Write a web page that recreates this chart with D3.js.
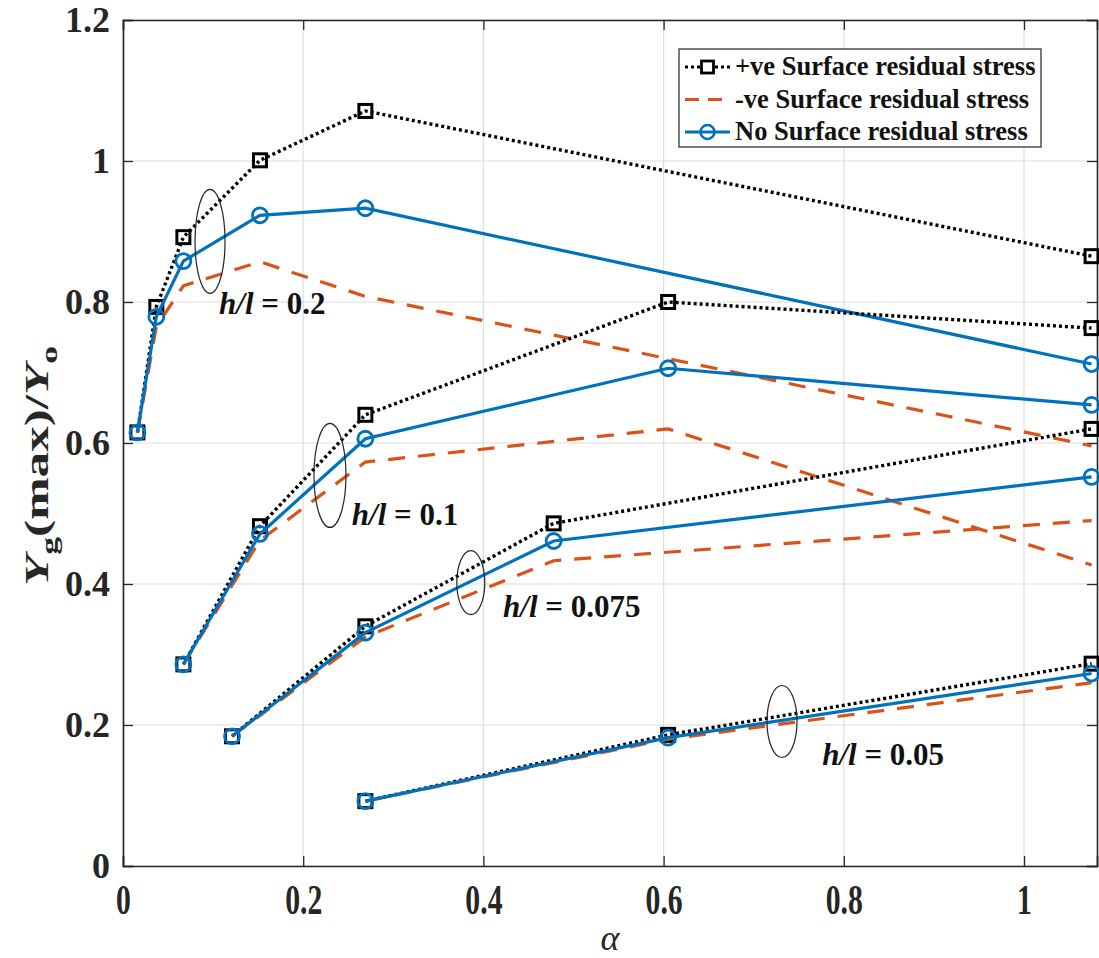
<!DOCTYPE html>
<html>
<head>
<meta charset="utf-8">
<script src="https://cdn.jsdelivr.net/npm/d3@7"></script>
<style>
    body { margin: 0; background: #fff; }
</style>
</head>
<body>
<div id="chart-area"></div>
<script>
// alpha values and Yg(max)/Yo for each h/l group
// h/l = 0.2
const alpha02 = [0.016, 0.037, 0.067, 0.152, 0.269, 1.075]
const pos02   = [0.615, 0.793, 0.892, 1.001, 1.071, 0.865]
const neg02   = [0.615, 0.765, 0.823, 0.857, 0.808, 0.596]
const none02  = [0.615, 0.779, 0.858, 0.923, 0.933, 0.712]
// h/l = 0.1
const alpha01 = [0.067, 0.152, 0.269, 0.605, 1.075]
const pos01   = [0.286, 0.482, 0.640, 0.800, 0.763]
const neg01   = [0.286, 0.462, 0.573, 0.620, 0.427]
const none01  = [0.286, 0.471, 0.606, 0.706, 0.654]
// h/l = 0.075
const alpha0075 = [0.121, 0.269, 0.478, 1.075]
const pos0075   = [0.184, 0.340, 0.486, 0.620]
const neg0075   = [0.184, 0.325, 0.433, 0.490]
const none0075  = [0.184, 0.331, 0.461, 0.552]
// h/l = 0.05
const alpha005 = [0.269, 0.605, 1.075]
const pos005   = [0.092, 0.186, 0.287]
const neg005   = [0.092, 0.180, 0.260]
const none005  = [0.092, 0.182, 0.273]

const xTicks = [0, 0.2, 0.4, 0.6, 0.8, 1]
const xTickLabels = ["0", "0.2", "0.4", "0.6", "0.8", "1"]
const yTicks = [0, 0.2, 0.4, 0.6, 0.8, 1, 1.2]
const yTickLabels = ["0", "0.2", "0.4", "0.6", "0.8", "1", "1.2"]
const legendLabels = ["+ve Surface residual stress", "-ve Surface residual stress", "No Surface residual stress"]
const groupLabels = ["0.2", "0.1", "0.075", "0.05"]

const FONT = "'Liberation Serif', 'Times New Roman', serif"

let MARGIN = {LEFT: 123, RIGHT: 2, TOP: 20, BOTTOM: 92}
let WIDTH = 1099 - MARGIN.LEFT - MARGIN.RIGHT
let HEIGHT = 958 - MARGIN.TOP - MARGIN.BOTTOM

let svg = d3.select("#chart-area").append("svg")
    .attr("width", 1099)
    .attr("height", 958)
    .style("font-family", FONT)

let g = svg.append("g")
    .attr("transform", `translate(${MARGIN.LEFT}, ${MARGIN.TOP})`)

let x = d3.scaleLinear().domain([0, 1.081]).range([0, WIDTH])
let y = d3.scaleLinear().domain([0, 1.2]).range([HEIGHT, 0])

// grid
g.append("g").selectAll("line").data(xTicks).enter().append("line")
    .attr("x1", d => x(d)).attr("x2", d => x(d))
    .attr("y1", 0).attr("y2", HEIGHT)
    .attr("stroke", "#dedede").attr("stroke-width", 1.2)
g.append("g").selectAll("line").data(yTicks).enter().append("line")
    .attr("x1", 0).attr("x2", WIDTH)
    .attr("y1", d => y(d)).attr("y2", d => y(d))
    .attr("stroke", "#dedede").attr("stroke-width", 1.2)

// axes (inward ticks, full box)
let xAxisCall = d3.axisBottom(x).tickValues(xTicks).tickSize(-10)
    .tickFormat((d, i) => xTickLabels[i])
let xAxis = g.append("g")
    .attr("transform", `translate(0, ${HEIGHT})`)
    .call(xAxisCall)
// x labels in the figure are tall and narrow
xAxis.selectAll(".tick text")
    .attr("y", 0).attr("dy", 0)
    .attr("transform", "translate(0, 48) scale(0.9, 1.25)")
    .attr("font-size", "33px")
let yAxisCall = d3.axisLeft(y).tickValues(yTicks).tickSize(-10).tickPadding(13)
    .tickFormat((d, i) => yTickLabels[i])
let yAxis = g.append("g").call(yAxisCall)
yAxis.selectAll(".tick text").attr("font-size", "36px")
g.append("g").call(d3.axisTop(x).tickValues(xTicks).tickSize(-10).tickFormat(""))
g.append("g").attr("transform", `translate(${WIDTH}, 0)`)
    .call(d3.axisRight(y).tickValues(yTicks).tickSize(-10).tickFormat(""))
g.selectAll(".domain").attr("stroke", "#262626").attr("stroke-width", 1.6)
g.selectAll(".tick line").attr("stroke", "#262626").attr("stroke-width", 1.3)
g.selectAll(".tick text")
    .style("font-family", FONT)
    .attr("font-weight", "bold")
    .attr("fill", "#262626")

// series
const groups = [
    {alpha: alpha02, pos: pos02, neg: neg02, none: none02},
    {alpha: alpha01, pos: pos01, neg: neg01, none: none01},
    {alpha: alpha0075, pos: pos0075, neg: neg0075, none: none0075},
    {alpha: alpha005, pos: pos005, neg: neg005, none: none005}
]
const BLACK = "#000000", ORANGE = "#D95319", BLUE = "#0072BD"

let line = d3.line().x(d => x(d[0])).y(d => y(d[1]))
let plot = g.append("g")

groups.forEach(grp => {
    let p = grp.alpha.map((a, i) => [a, grp.pos[i]])
    let n = grp.alpha.map((a, i) => [a, grp.neg[i]])
    let b = grp.alpha.map((a, i) => [a, grp.none[i]])

    plot.append("path").datum(p).attr("d", line)
        .attr("fill", "none").attr("stroke", BLACK)
        .attr("stroke-width", 3.4).attr("stroke-dasharray", "3,3")
    plot.selectAll(null).data(p).enter().append("rect")
        .attr("x", d => x(d[0]) - 6.5).attr("y", d => y(d[1]) - 6.5)
        .attr("width", 13).attr("height", 13)
        .attr("fill", "none").attr("stroke", BLACK).attr("stroke-width", 3)

    plot.append("path").datum(n).attr("d", line)
        .attr("fill", "none").attr("stroke", ORANGE)
        .attr("stroke-width", 3.2).attr("stroke-dasharray", "17,13")

    plot.append("path").datum(b).attr("d", line)
        .attr("fill", "none").attr("stroke", BLUE).attr("stroke-width", 3.2)
    plot.selectAll(null).data(b).enter().append("circle")
        .attr("cx", d => x(d[0])).attr("cy", d => y(d[1])).attr("r", 7.5)
        .attr("fill", "none").attr("stroke", BLUE).attr("stroke-width", 2.8)
})

// h/l group annotations: ellipse centre, radii (px), label anchor
const notes = [
    {cx: 0.0966, cy: 0.886, rx: 15, ry: 52, lx: 0.1066, ly: 0.783},
    {cx: 0.2297, cy: 0.554, rx: 16, ry: 52, lx: 0.254, ly: 0.484},
    {cx: 0.386, cy: 0.402, rx: 14, ry: 32, lx: 0.4218, ly: 0.353},
    {cx: 0.7314, cy: 0.205, rx: 15, ry: 36, lx: 0.776, ly: 0.143}
]
notes.forEach((nt, i) => {
    g.append("ellipse")
        .attr("cx", x(nt.cx)).attr("cy", y(nt.cy))
        .attr("rx", nt.rx).attr("ry", nt.ry)
        .attr("fill", "none").attr("stroke", "#222").attr("stroke-width", 1.2)
    let t = g.append("text")
        .attr("x", x(nt.lx)).attr("y", y(nt.ly))
        .style("font-family", FONT)
        .attr("font-size", "31px").attr("font-weight", "bold").attr("fill", "#111")
    t.append("tspan").attr("font-style", "italic").text("h/l")
    t.append("tspan").text(" = " + groupLabels[i])
})

// legend
let leg = svg.append("g").attr("transform", "translate(679, 49)")
leg.append("rect").attr("width", 362).attr("height", 98)
    .attr("fill", "#fff").attr("stroke", "#333").attr("stroke-width", 1.3)
const legStyles = [
    {color: BLACK, dash: "3,3", marker: "square"},
    {color: ORANGE, dash: "14,9", marker: null},
    {color: BLUE, dash: null, marker: "circle"}
]
legendLabels.forEach((lab, i) => {
    let ly = 18 + i * 32.5
    let st = legStyles[i]
    leg.append("line").attr("x1", 6).attr("x2", 51).attr("y1", ly).attr("y2", ly)
        .attr("stroke", st.color).attr("stroke-width", 3)
        .attr("stroke-dasharray", st.dash)
    if (st.marker === "square") {
        leg.append("rect").attr("x", 22.5).attr("y", ly - 6).attr("width", 12).attr("height", 12)
            .attr("fill", "#fff").attr("stroke", st.color).attr("stroke-width", 2.8)
    } else if (st.marker === "circle") {
        leg.append("circle").attr("cx", 28.5).attr("cy", ly).attr("r", 7)
            .attr("fill", "none").attr("stroke", st.color).attr("stroke-width", 2.6)
    }
    leg.append("text").attr("x", 56).attr("y", ly + 8)
        .style("font-family", FONT)
        .attr("font-size", "26.5px").attr("font-weight", "bold").attr("fill", "#111")
        .text(lab)
})

// axis labels
svg.append("text")
    .attr("x", 610).attr("y", 950)
    .attr("text-anchor", "middle")
    .style("font-family", FONT)
    .attr("font-size", "36px").attr("font-style", "italic").attr("fill", "#262626")
    .text("α")

let yl = svg.append("text")
    .attr("transform", "translate(48, 466) rotate(-90) scale(1.55, 1)")
    .attr("text-anchor", "middle")
    .style("font-family", FONT)
    .attr("font-size", "33px").attr("font-weight", "bold").attr("fill", "#262626")
yl.append("tspan").attr("font-style", "italic").text("Y")
yl.append("tspan").attr("font-size", "23px").attr("dy", 9).text("g")
yl.append("tspan").attr("dy", -9).text("(max)/")
yl.append("tspan").attr("font-style", "italic").text("Y")
yl.append("tspan").attr("font-size", "23px").attr("dy", 9).text("o")
</script>
</body>
</html>
